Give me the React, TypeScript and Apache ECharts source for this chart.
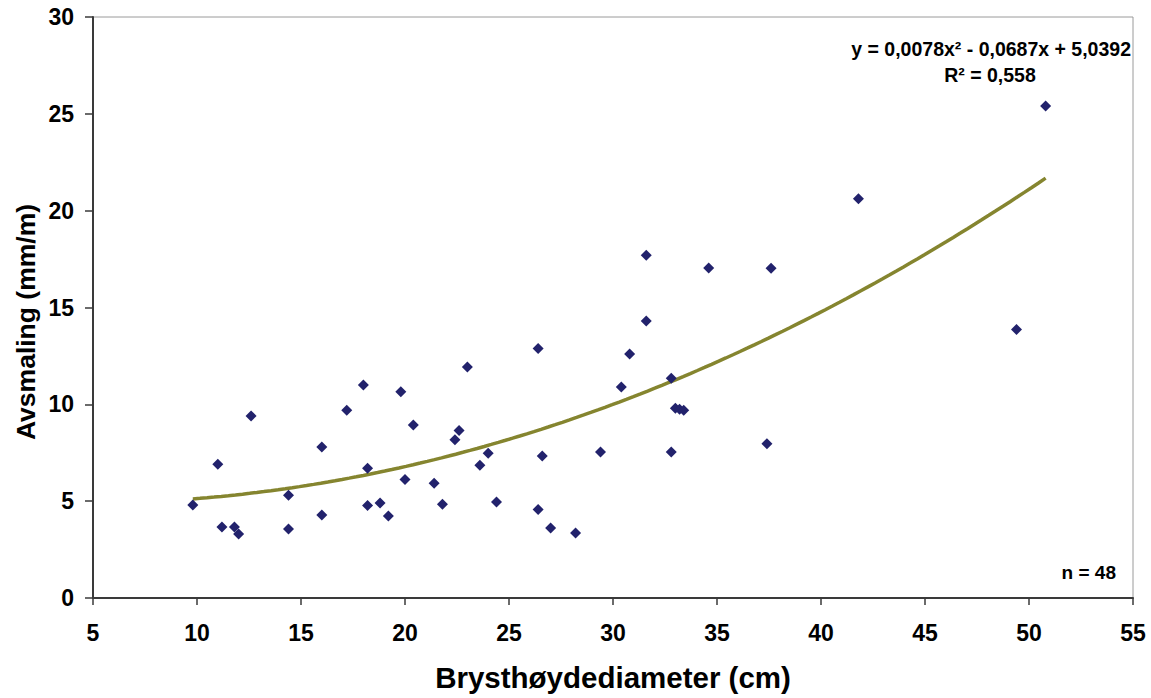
import React, { useEffect, useRef } from "react";
import * as echarts from "echarts";

const diameters = [
  9.8, 11.0, 11.2, 11.8, 12.0, 12.6, 14.4, 14.4, 16.0, 16.0, 17.2, 18.0,
  18.2, 18.2, 18.8, 19.2, 19.8, 20.0, 20.4, 21.4, 21.8, 22.4, 22.6, 23.0,
  23.6, 24.0, 24.4, 26.4, 26.4, 26.6, 27.0, 28.2, 29.4, 30.4, 30.8, 31.6,
  31.6, 32.8, 32.8, 33.0, 33.2, 33.4, 34.6, 37.4, 37.6, 41.8, 49.4, 50.8,
];
const taper = [
  4.8, 6.9, 3.67, 3.67, 3.3, 9.4, 3.56, 5.3, 7.8, 4.28, 9.7, 11.0,
  6.7, 4.78, 4.9, 4.23, 10.65, 6.12, 8.93, 5.93, 4.84, 8.17, 8.65, 11.93,
  6.86, 7.48, 4.96, 12.88, 4.57, 7.33, 3.62, 3.36, 7.54, 10.9, 12.6, 17.7,
  14.3, 11.35, 7.54, 9.8, 9.75, 9.7, 17.04, 7.97, 17.03, 20.62, 13.87, 25.4,
];
// trendline coefficients as printed on the chart: a*x^2 + b*x + c
const trendCoefficients = [0.0078, -0.0687, 5.0392];
const xTicks = { min: 5, max: 55, interval: 5 };
const yTicks = { min: 0, max: 30, interval: 5 };
const equationText = "y = 0,0078x² - 0,0687x + 5,0392";
const r2Text = "R² = 0,558";
const nText = "n = 48";
const xTitle = "Brysthøydediameter (cm)";
const yTitle = "Avsmaling (mm/m)";

const FONT = "'Liberation Sans', Arial, sans-serif";

export default function App() {
  const ref = useRef<HTMLDivElement>(null);
  useEffect(() => {
    if (!ref.current) return;
    const chart = echarts.init(ref.current, undefined, { renderer: "svg" });
    const points = diameters.map((d, i) => [d, taper[i]]);
    const xMin = Math.min(...diameters);
    const xMax = Math.max(...diameters);
    const [a, b, c] = trendCoefficients;
    const trend: number[][] = [];
    const steps = 120;
    for (let i = 0; i <= steps; i++) {
      const x = xMin + ((xMax - xMin) * i) / steps;
      trend.push([x, a * x * x + b * x + c]);
    }
    const labelStyle = {
      fontFamily: FONT,
      fontWeight: "bold" as const,
      fontSize: 23,
      color: "#000",
    };
    chart.setOption({
      animation: false,
      backgroundColor: "#fff",
      grid: {
        left: 93,
        top: 17,
        right: 18,
        bottom: 100,
        show: true,
        borderColor: "#9a9a9a",
        borderWidth: 1,
        backgroundColor: "transparent",
      },
      xAxis: {
        type: "value",
        min: xTicks.min,
        max: xTicks.max,
        interval: xTicks.interval,
        axisLine: { show: true, onZero: false, lineStyle: { color: "#3a3a3a", width: 2 } },
        axisTick: { show: true, inside: false, length: 7, lineStyle: { color: "#3a3a3a", width: 1.5 } },
        axisLabel: { ...labelStyle, margin: 23 },
        splitLine: { show: false },
      },
      yAxis: {
        type: "value",
        min: yTicks.min,
        max: yTicks.max,
        interval: yTicks.interval,
        axisLine: { show: true, onZero: false, lineStyle: { color: "#3a3a3a", width: 2 } },
        axisTick: { show: true, inside: false, length: 8, lineStyle: { color: "#3a3a3a", width: 1.5 } },
        axisLabel: { ...labelStyle, margin: 19 },
        splitLine: { show: false },
      },
      series: [
        {
          type: "line",
          data: trend,
          showSymbol: false,
          symbol: "none",
          smooth: false,
          lineStyle: { color: "#85852f", width: 3.5 },
          z: 2,
          silent: true,
        },
        {
          type: "scatter",
          data: points,
          symbol: "diamond",
          symbolSize: 11,
          itemStyle: { color: "#22226c", opacity: 1 },
          z: 3,
        },
      ],
      graphic: [
        {
          type: "text",
          x: 613,
          y: 677,
          style: {
            text: xTitle,
            font: `bold 29.5px ${FONT}`,
            fill: "#000",
            align: "center",
            verticalAlign: "middle",
          },
        },
        {
          type: "text",
          x: 26,
          y: 322,
          rotation: Math.PI / 2,
          style: {
            text: yTitle,
            font: `bold 26.5px ${FONT}`,
            fill: "#000",
            align: "center",
            verticalAlign: "middle",
          },
        },
        {
          type: "text",
          x: 1131,
          y: 49,
          style: {
            text: equationText,
            font: `bold 19.5px ${FONT}`,
            fill: "#000",
            align: "right",
            verticalAlign: "middle",
          },
        },
        {
          type: "text",
          x: 990,
          y: 75,
          style: {
            text: r2Text,
            font: `bold 19.5px ${FONT}`,
            fill: "#000",
            align: "center",
            verticalAlign: "middle",
          },
        },
        {
          type: "text",
          x: 1116,
          y: 572,
          style: {
            text: nText,
            font: `bold 19px ${FONT}`,
            fill: "#000",
            align: "right",
            verticalAlign: "middle",
          },
        },
      ],
    });
    return () => chart.dispose();
  }, []);
  return (
    <div
      ref={ref}
      style={{ position: "fixed", left: 0, top: 0, width: 1151, height: 698, background: "#fff" }}
    />
  );
}
